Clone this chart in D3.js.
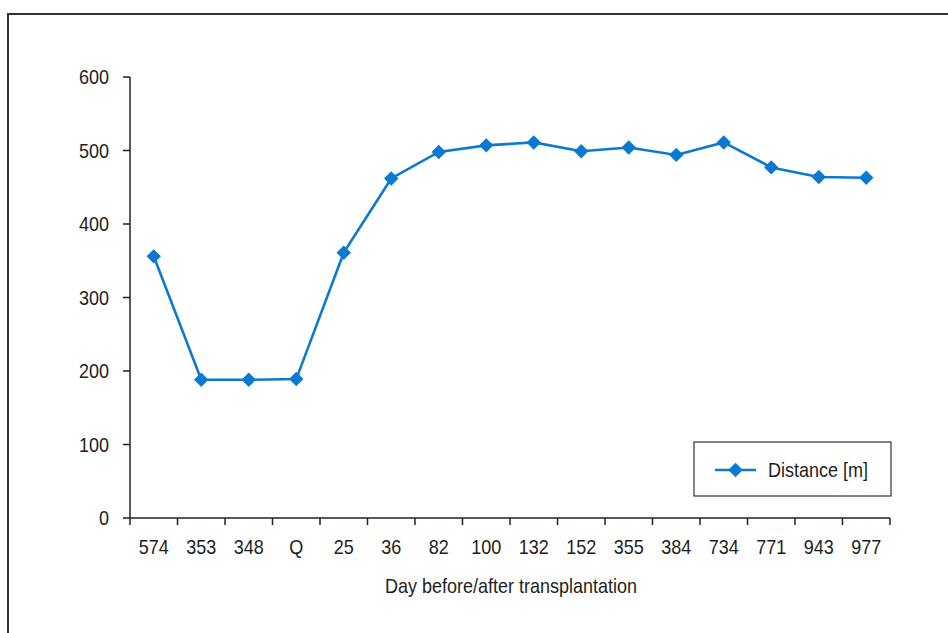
<!DOCTYPE html>
<html><head><meta charset="utf-8">
<script src="https://cdn.jsdelivr.net/npm/d3@7"></script>
<style>
html,body{margin:0;padding:0;background:#fff;}
svg text{font-family:"Liberation Sans",Arial,sans-serif;fill:#1e1e1e;}
</style></head>
<body>
<svg id="c" width="948" height="633"></svg>
<script>
const categories = ["574","353","348","Q","25","36","82","100","132","152","355","384","734","771","943","977"];
const distance = [356,188,188,189,361,462,498,507,511,499,504,494,511,477,464,463];
const yTicks = [0,100,200,300,400,500,600];
const seriesName = "Distance [m]";
const xTitle = "Day before/after transplantation";

const svg = d3.select("#c");
const color = "#0b79d0";
const axisColor = "#222";
const fontSize = 20;
const sx = 0.9;

function txt(g, x, y, s, anchor, dy){
  return g.append("text").attr("transform",`translate(${x},${y}) scale(${sx},1)`)
    .attr("text-anchor",anchor).attr("dy",dy||0).attr("font-size",fontSize).text(s);
}

// frame
svg.append("rect").attr("x",8).attr("y",14).attr("width",980).attr("height",680)
  .attr("fill","none").attr("stroke","#333").attr("stroke-width",2);

const x = d3.scaleBand().domain(categories).range([130,890]).padding(0);
const y = d3.scaleLinear().domain([0,600]).range([518,77]);

// y axis
const ya = svg.append("g");
ya.append("line").attr("x1",130).attr("x2",130).attr("y1",y(0)).attr("y2",y(600))
  .attr("stroke",axisColor).attr("stroke-width",1.5);
ya.selectAll("line.t").data(yTicks).join("line").attr("class","t")
  .attr("x1",123).attr("x2",130).attr("y1",d=>y(d)).attr("y2",d=>y(d))
  .attr("stroke",axisColor).attr("stroke-width",1.5);
yTicks.forEach(d=>txt(ya,109,y(d),d,"end","0.36em"));

// x axis
const xa = svg.append("g");
xa.append("line").attr("x1",130).attr("x2",890).attr("y1",y(0)).attr("y2",y(0))
  .attr("stroke",axisColor).attr("stroke-width",1.5);
const bounds = categories.map(c=>x(c)).concat([x(categories[categories.length-1])+x.bandwidth()]);
xa.selectAll("line.t").data(bounds).join("line").attr("class","t")
  .attr("x1",d=>d).attr("x2",d=>d).attr("y1",y(0)).attr("y2",y(0)+7)
  .attr("stroke",axisColor).attr("stroke-width",1.5);
categories.forEach(c=>txt(xa,x(c)+x.bandwidth()/2,554,c,"middle"));
txt(svg,511,593,xTitle,"middle");

// line
const cx = d=>x(d)+x.bandwidth()/2;
const line = d3.line().x((d,i)=>cx(categories[i])).y(d=>y(d));
svg.append("path").datum(distance).attr("d",line).attr("fill","none")
  .attr("stroke",color).attr("stroke-width",2.6);
const diamond = d3.symbol().type(d3.symbolSquare).size(104);
svg.selectAll("path.m").data(distance).join("path").attr("class","m")
  .attr("d",diamond())
  .attr("transform",(d,i)=>`translate(${cx(categories[i])},${y(d)}) rotate(45)`)
  .attr("fill",color);

// legend
const lg = svg.append("g");
lg.append("rect").attr("x",694).attr("y",442).attr("width",197).attr("height",54)
  .attr("fill","#fff").attr("stroke","#333").attr("stroke-width",1.2);
lg.append("line").attr("x1",715).attr("x2",756).attr("y1",470).attr("y2",470)
  .attr("stroke",color).attr("stroke-width",2.6);
lg.append("path").attr("d",diamond()).attr("transform","translate(735.5,470) rotate(45)").attr("fill",color);
txt(lg,768,470,seriesName,"start","0.36em");
</script>
</body></html>
